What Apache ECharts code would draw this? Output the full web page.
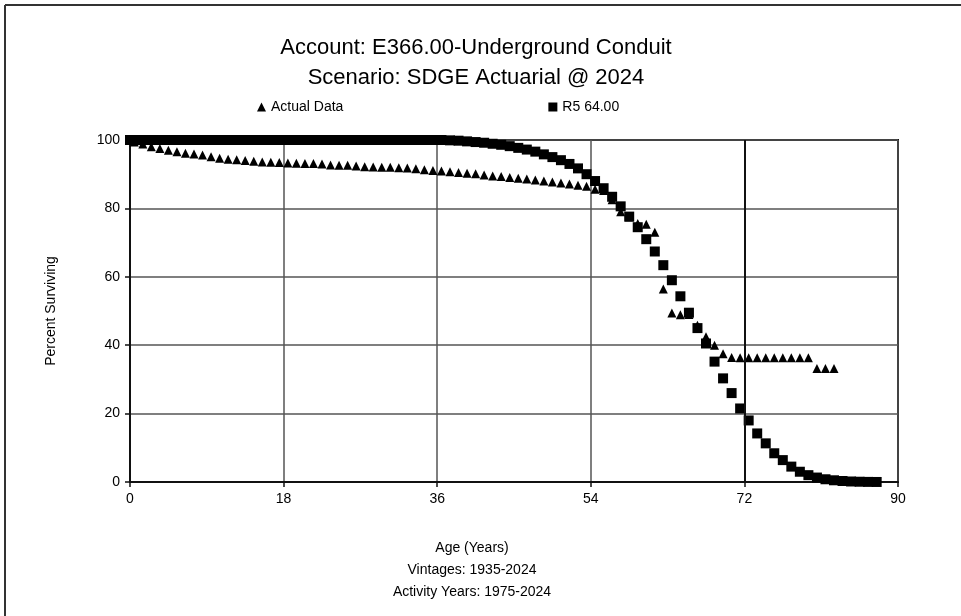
<!DOCTYPE html>
<html>
<head>
<meta charset="utf-8">
<script src="https://cdn.jsdelivr.net/npm/echarts@6/dist/echarts.min.js"></script>
<style>
html,body{margin:0;padding:0;background:#fff;}
#chart{width:961px;height:616px;}
</style>
</head>
<body>
<div id="chart"></div>
<script>
var titleLines = ['Account: E366.00-Underground Conduit', 'Scenario: SDGE Actuarial @ 2024'];
var xNameLines = ['Age (Years)', 'Vintages: 1935-2024', 'Activity Years: 1975-2024'];
var yName = 'Percent Surviving';
var seriesNames = ['Actual Data', 'R5 64.00'];
var xTicks = [0, 18, 36, 54, 72, 90];
var yTicks = [0, 20, 40, 60, 80, 100];

var actualAges = [0,0.5,1.5,2.5,3.5,4.5,5.5,6.5,7.5,8.5,9.5,10.5,11.5,12.5,13.5,14.5,15.5,16.5,17.5,18.5,19.5,20.5,21.5,22.5,23.5,24.5,25.5,26.5,27.5,28.5,29.5,30.5,31.5,32.5,33.5,34.5,35.5,36.5,37.5,38.5,39.5,40.5,41.5,42.5,43.5,44.5,45.5,46.5,47.5,48.5,49.5,50.5,51.5,52.5,53.5,54.5,55.5,56.5,57.5,58.5,59.5,60.5,61.5,62.5,63.5,64.5,65.5,66.5,67.5,68.5,69.5,70.5,71.5,72.5,73.5,74.5,75.5,76.5,77.5,78.5,79.5,80.5,81.5,82.5];
var actualPct = [100,99.4,98.8,98.0,97.5,97.0,96.6,96.1,95.9,95.6,95.1,94.7,94.4,94.2,94.0,93.8,93.6,93.5,93.4,93.3,93.2,93.1,93.1,93.0,92.7,92.6,92.6,92.4,92.2,92.1,92.0,92.0,91.9,91.8,91.6,91.3,91.1,90.9,90.7,90.5,90.3,90.1,89.8,89.5,89.3,89.0,88.8,88.6,88.3,88.0,87.7,87.4,87.1,86.8,86.5,85.6,85.2,82.5,79.0,77.5,75.6,75.4,73.0,56.4,49.4,48.9,49.0,45.8,42.5,40.0,37.5,36.4,36.3,36.3,36.3,36.3,36.3,36.3,36.3,36.3,36.3,33.2,33.2,33.2];

var curveAges = [0,0.5,1.5,2.5,3.5,4.5,5.5,6.5,7.5,8.5,9.5,10.5,11.5,12.5,13.5,14.5,15.5,16.5,17.5,18.5,19.5,20.5,21.5,22.5,23.5,24.5,25.5,26.5,27.5,28.5,29.5,30.5,31.5,32.5,33.5,34.5,35.5,36.5,37.5,38.5,39.5,40.5,41.5,42.5,43.5,44.5,45.5,46.5,47.5,48.5,49.5,50.5,51.5,52.5,53.5,54.5,55.5,56.5,57.5,58.5,59.5,60.5,61.5,62.5,63.5,64.5,65.5,66.5,67.5,68.5,69.5,70.5,71.5,72.5,73.5,74.5,75.5,76.5,77.5,78.5,79.5,80.5,81.5,82.5,83.5,84.5,85.5,86.5,87.5];
var curvePct = [100,100,100,100,100,100,100,100,100,100,100,100,100,100,100,100,100,100,100,100,100,100,100,100,100,100,100,100,100,100,100,100,100,100,100,100,100,100,99.9,99.8,99.6,99.4,99.2,98.9,98.6,98.2,97.7,97.2,96.6,95.8,95.0,94.1,93.0,91.7,90.0,88.0,85.9,83.4,80.6,77.6,74.5,71.0,67.4,63.4,59.0,54.3,49.5,45.0,40.5,35.2,30.3,26.0,21.5,18.0,14.2,11.3,8.4,6.4,4.5,3.0,2.0,1.3,0.8,0.5,0.3,0.15,0.08,0.03,0.01];

function pairs(xs, ys) { return xs.map(function (x, i) { return [x, ys[i]]; }); }

var FONT = 'Liberation Sans, Arial, sans-serif';
var chart = echarts.init(document.getElementById('chart'), null, {renderer: 'canvas'});
chart.setOption({
  backgroundColor: '#fff',
  animation: false,
  title: [
    {text: titleLines.join('\n'), left: 471, top: 28, textAlign: 'center',
     textStyle: {fontFamily: FONT, fontSize: 22, fontWeight: 'normal', color: '#000', lineHeight: 30}},
    {text: xNameLines.join('\n'), left: 467, top: 532, textAlign: 'center',
     textStyle: {fontFamily: FONT, fontSize: 14, fontWeight: 'normal', color: '#000', lineHeight: 22}}
  ],
  legend: {
    left: 252, top: 95, itemGap: 205, itemWidth: 9, itemHeight: 9,
    textStyle: {fontFamily: FONT, fontSize: 14, color: '#000'},
    data: [{name: seriesNames[0], icon: 'triangle'}, {name: seriesNames[1], icon: 'rect'}]
  },
  grid: {left: 130, right: 63, top: 140, bottom: 134, show: true, borderColor: '#111', borderWidth: 2},
  xAxis: {
    type: 'value', min: xTicks[0], max: xTicks[xTicks.length - 1], interval: 18,
    axisLine: {lineStyle: {color: '#111', width: 2}},
    axisTick: {show: true, length: 5, lineStyle: {color: '#111', width: 1.5}},
    axisLabel: {fontFamily: FONT, fontSize: 14, color: '#000', margin: 10},
    splitLine: {show: true, lineStyle: {color: '#555', width: 1.5}}
  },
  yAxis: {
    type: 'value', min: yTicks[0], max: yTicks[yTicks.length - 1], interval: 20,
    name: yName, nameLocation: 'middle', nameGap: 72, nameRotate: 90,
    nameTextStyle: {fontFamily: FONT, fontSize: 14, color: '#000'},
    axisLine: {show: true, lineStyle: {color: '#111', width: 2}},
    axisTick: {show: true, length: 5, lineStyle: {color: '#111', width: 1.5}},
    axisLabel: {fontFamily: FONT, fontSize: 14, color: '#000', margin: 10},
    splitLine: {show: true, lineStyle: {color: '#555', width: 1.5}}
  },
  series: [
    {name: seriesNames[1], type: 'scatter', symbol: 'rect', symbolSize: 10,
     itemStyle: {color: '#000', opacity: 1}, data: pairs(curveAges, curvePct), z: 3,
     markLine: {silent: true, symbol: 'none', label: {show: false},
       lineStyle: {color: '#111', width: 2, type: 'solid'}, data: [{xAxis: 72}]}},
    {name: seriesNames[0], type: 'scatter', symbol: 'triangle', symbolSize: 9,
     itemStyle: {color: '#000', opacity: 1}, data: pairs(actualAges, actualPct), z: 4}
  ],
  graphic: [
    {type: 'line', shape: {x1: 5, y1: 5, x2: 961, y2: 5}, style: {stroke: '#333', lineWidth: 2}},
    {type: 'line', shape: {x1: 5, y1: 5, x2: 5, y2: 616}, style: {stroke: '#333', lineWidth: 2}}
  ]
});
</script>
</body>
</html>
